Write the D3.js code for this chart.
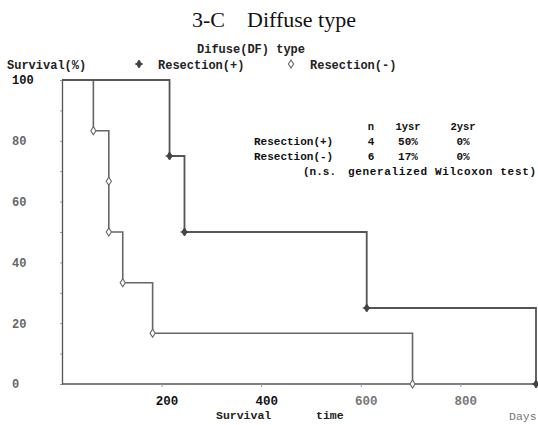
<!DOCTYPE html>
<html>
<head>
<meta charset="utf-8">
<script src="https://cdn.jsdelivr.net/npm/d3@7"></script>
<style>
body { margin: 0; background: #fff; }
svg { display: block; }
</style>
</head>
<body>
<div id="chart"></div>
<script>
"use strict";

// ---------- data ----------
var daysPlus  = [0, 216, 246, 612, 952];          // Resection(+), n = 4
var survPlus  = [100, 75, 50, 25, 0];
var daysMinus = [0, 63, 94, 94, 122, 182, 704];   // Resection(-), n = 6
var survMinus = [100, 83.3, 66.7, 50, 33.3, 16.7, 0];

var xTicks = [200, 400, 600, 800];
var yTicks = [0, 20, 40, 60, 80, 100];
var yMinor = [10, 30, 50, 70, 90];

var tableHead = ["n", "1ysr", "2ysr"];
var tableRows = [
	["Resection(+)", "4", "50%", "0%"],
	["Resection(-)", "6", "17%", "0%"]
];

var W = 538, H = 425;
var mono = "'Liberation Mono', 'DejaVu Sans Mono', monospace";
var serif = "'Liberation Serif', 'DejaVu Serif', serif";
var lineCol = "#555";

var svg = d3.select("#chart").append("svg")
	.attr("width", W).attr("height", H);

svg.append("rect").attr("width", W).attr("height", H).attr("fill", "#fff");

//scales: 0 days sits on the y axis, 100 % on the top line
var x = d3.scaleLinear().domain([0, 954]).range([62, 537]);
var y = d3.scaleLinear().domain([0, 100]).range([384, 80]);

// ---------- titles ----------
svg.append("text")
	.attr("x", 192).attr("y", 27)
	.attr("font-family", serif).attr("font-size", 22).attr("fill", "#111")
	.text("3-C");
svg.append("text")
	.attr("x", 247).attr("y", 27)
	.attr("font-family", serif).attr("font-size", 22).attr("fill", "#111")
	.text("Diffuse type");

svg.append("text")
	.attr("x", 197).attr("y", 53)
	.attr("font-family", mono).attr("font-size", 12).attr("font-weight", "bold")
	.attr("fill", "#222")
	.text("Difuse(DF) type");

svg.append("text")
	.attr("x", 7).attr("y", 69)
	.attr("font-family", mono).attr("font-size", 12).attr("font-weight", "bold")
	.attr("fill", "#222")
	.text("Survival(%)");

// ---------- marker shapes ----------
function diamond(s){
	return "M0," + (-s) + "L" + (s * 0.65) + ",0L0," + s + "L" + (-s * 0.65) + ",0Z";
}

function markPlus(g, cx, cy){
	g.append("path").attr("d", diamond(4)).attr("transform", "translate(" + cx + "," + cy + ")")
		.attr("fill", "#444").attr("stroke", "#444").attr("stroke-width", 1);
	g.append("path").attr("d", "M" + (cx - 4) + "," + cy + "H" + (cx + 4))
		.attr("stroke", "#444").attr("stroke-width", 1.2);
}

function markMinus(g, cx, cy){
	g.append("path").attr("d", diamond(4)).attr("transform", "translate(" + cx + "," + cy + ")")
		.attr("fill", "#fff").attr("stroke", "#666").attr("stroke-width", 1.1);
}

// ---------- legend ----------
var leg = svg.append("g");
markPlus(leg, 139, 64);
leg.append("text").attr("x", 158).attr("y", 69)
	.attr("font-family", mono).attr("font-size", 12).attr("font-weight", "bold").attr("fill", "#222")
	.text("Resection(+)");
markMinus(leg, 291, 64);
leg.append("text").attr("x", 310).attr("y", 69)
	.attr("font-family", mono).attr("font-size", 12).attr("font-weight", "bold").attr("fill", "#222")
	.text("Resection(-)");

// ---------- axes ----------
var xAxis = svg.append("g")
	.attr("transform", "translate(0," + y(0) + ")")
	.call(d3.axisBottom(x).tickValues(xTicks).tickSize(3).tickSizeOuter(0));
xAxis.select(".domain").attr("d", "M" + x(0) + ",0H" + W).attr("stroke", lineCol).attr("stroke-width", 1.6);
xAxis.selectAll(".tick line").attr("stroke", "#999");
xAxis.selectAll(".tick text")
	.attr("y", 21).attr("dy", 0).attr("x", 5)
	.attr("font-family", mono).attr("font-size", 12.5).attr("font-weight", "bold")
	.attr("fill", function(d){ return d <= 400 ? "#111" : "#777"; });

var yAxis = svg.append("g")
	.attr("transform", "translate(" + x(0) + ",0)")
	.call(d3.axisLeft(y).tickValues(yTicks.concat(yMinor)).tickSize(2).tickSizeOuter(0)
		.tickFormat(function(d){ return yTicks.indexOf(d) >= 0 ? d : ""; }));
yAxis.select(".domain").attr("stroke", lineCol).attr("stroke-width", 1.3);
yAxis.selectAll(".tick line").attr("stroke", "#999");
//labels are left aligned in the original
yAxis.selectAll(".tick text")
	.attr("x", -50).attr("text-anchor", "start")
	.attr("font-family", mono).attr("font-size", 12).attr("font-weight", "bold")
	.attr("fill", function(d){ return d == 100 ? "#111" : "#666"; });

svg.append("text")
	.attr("x", 216).attr("y", 419)
	.attr("font-family", mono).attr("font-size", 11.5).attr("font-weight", "bold").attr("fill", "#222")
	.text("Survival");
svg.append("text")
	.attr("x", 316).attr("y", 419)
	.attr("font-family", mono).attr("font-size", 11.5).attr("font-weight", "bold").attr("fill", "#222")
	.text("time");
svg.append("text")
	.attr("x", 509).attr("y", 420)
	.attr("font-family", mono).attr("font-size", 11.5).attr("fill", "#777")
	.text("Days");

// ---------- survival curves ----------
var step = d3.line()
	.x(function(d){ return x(d[0]); })
	.y(function(d){ return y(d[1]); })
	.curve(d3.curveStepAfter);

var plusPts = d3.zip(daysPlus, survPlus);
var minusPts = d3.zip(daysMinus, survMinus);

svg.append("path").datum(minusPts)
	.attr("d", step).attr("fill", "none")
	.attr("stroke", "#666").attr("stroke-width", 1.6);
svg.append("path").datum(plusPts)
	.attr("d", step).attr("fill", "none")
	.attr("stroke", lineCol).attr("stroke-width", 1.8);

var marks = svg.append("g");
for(var i = 1; i < minusPts.length; ++i){
	markMinus(marks, x(minusPts[i][0]), y(minusPts[i][1]));
}
for(var j = 1; j < plusPts.length; ++j){
	markPlus(marks, x(plusPts[j][0]), y(plusPts[j][1]));
}

// ---------- result table ----------
var tbl = svg.append("g")
	.attr("font-family", mono).attr("font-weight", "bold").attr("fill", "#111");
var colX = [254, 371, 408, 463];
var colAnchor = ["start", "middle", "middle", "middle"];

tbl.selectAll("text.head").data(tableHead).enter()
	.append("text").attr("class", "head")
	.attr("x", function(d, k){ return colX[k + 1]; })
	.attr("y", 130).attr("text-anchor", "middle").attr("font-size", 10.5)
	.text(function(d){ return d; });

tableRows.forEach(function(row, r){
	tbl.selectAll("text.r" + r).data(row).enter()
		.append("text").attr("class", "r" + r)
		.attr("x", function(d, k){ return colX[k]; })
		.attr("y", 145 + r * 15)
		.attr("text-anchor", function(d, k){ return colAnchor[k]; })
		.attr("font-size", 11)
		.text(function(d){ return d; });
});

tbl.append("text").attr("x", 303).attr("y", 175).attr("font-size", 11).text("(n.s.");
tbl.append("text").attr("x", 348).attr("y", 175).attr("font-size", 11)
	.attr("textLength", 188)
	.text("generalized Wilcoxon test)");
</script>
</body>
</html>
